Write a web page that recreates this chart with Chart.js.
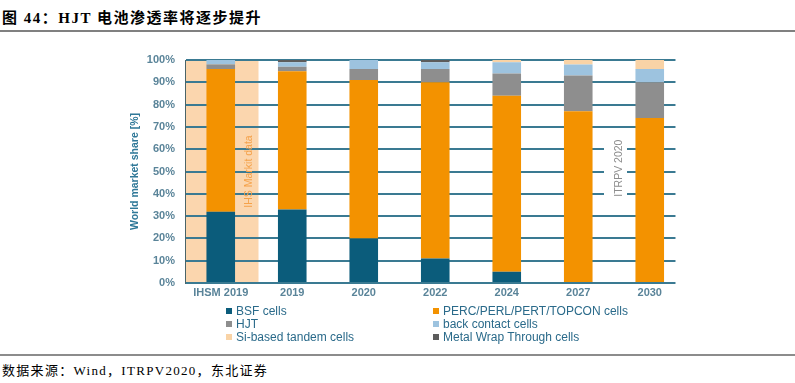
<!DOCTYPE html>
<html><head><meta charset="utf-8">
<script src="https://cdn.jsdelivr.net/npm/chart.js@4.4.0/dist/chart.umd.min.js"></script>
<style>
html,body{margin:0;padding:0;background:#fff;width:795px;height:383px;overflow:hidden;position:relative;}
#title{position:absolute;left:2px;top:6px;font:bold 15px "Liberation Serif","Noto Sans CJK SC",serif;letter-spacing:1.5px;color:#000;white-space:nowrap;}
#topline{position:absolute;left:0;top:30px;width:795px;height:2px;background:#808080;}
#botline{position:absolute;left:0;top:354px;width:795px;height:2px;background:#8c8c8c;}
#source{position:absolute;left:2px;top:360px;font:13px "Liberation Serif","Noto Sans CJK SC",serif;letter-spacing:1.3px;color:#000;white-space:nowrap;}
#wrap{position:absolute;left:0;top:40px;width:795px;height:265px;}
#legend{position:absolute;left:226px;top:305px;display:grid;grid-template-columns:207px 230px;font:12px "Liberation Sans",Arial,sans-serif;color:#2A6A8A;}
.item{height:12.8px;line-height:12.8px;white-space:nowrap;display:flex;align-items:center;}
.sw{width:6px;height:6px;margin-right:4px;display:inline-block;}
</style></head>
<body>
<div id="title">图 44：HJT 电池渗透率将逐步提升</div>
<div id="topline"></div>
<div id="wrap"><canvas id="c"></canvas></div>
<div id="legend"></div>
<div id="botline"></div>
<div id="source">数据来源：Wind，ITRPV2020，东北证券</div>
<script>
const categories = ['IHSM 2019','2019','2020','2022','2024','2027','2030'];
const bsfCells     = [32, 33, 20, 11, 5, 0, 0];
const percCells    = [64, 62, 71, 79, 79, 77, 74];
const hjtCells     = [2, 2, 5, 6, 10, 16, 16];
const backContact  = [2, 2, 4, 3, 5, 5, 6];
const metalWrap    = [0, 1, 0, 1, 0, 0, 0];
const tandemCells  = [0, 0, 0, 0, 1, 2, 4];
const yTicks = [0,10,20,30,40,50,60,70,80,90,100];

const series = [
  {label:'BSF cells', data:bsfCells, color:'#0B5C7B'},
  {label:'PERC/PERL/PERT/TOPCON cells', data:percCells, color:'#F39200'},
  {label:'HJT', data:hjtCells, color:'#8E8E8E'},
  {label:'back contact cells', data:backContact, color:'#9DC3DF'},
  {label:'Metal Wrap Through cells', data:metalWrap, color:'#5C5C5C'},
  {label:'Si-based tandem cells', data:tandemCells, color:'#F9D3A6'}
];
const legendOrder = ['BSF cells','PERC/PERL/PERT/TOPCON cells','HJT','back contact cells','Si-based tandem cells','Metal Wrap Through cells'];

const lg = document.getElementById('legend');
legendOrder.forEach(name => {
  const s = series.find(d => d.label === name);
  const it = document.createElement('div'); it.className='item';
  const sw = document.createElement('span'); sw.className='sw'; sw.style.background=s.color;
  it.appendChild(sw); it.appendChild(document.createTextNode(s.label));
  lg.appendChild(it);
});

const overlay = {
  id:'overlay',
  beforeDraw(chart){
    const {ctx, chartArea:a, scales:{x}} = chart;
    const w = x.getPixelForValue(1) - x.getPixelForValue(0);
    const c0 = x.getPixelForValue(0);
    ctx.save();
    ctx.fillStyle = '#FBD6AE';
    ctx.fillRect(c0 - w/2 + 1, a.top, w + 1, a.bottom - a.top);
    ctx.restore();
  },
  beforeDatasetsDraw(chart){
    const {ctx, chartArea:a, scales:{x,y}} = chart;
    const w = x.getPixelForValue(1) - x.getPixelForValue(0);
    const mid = (x.getPixelForValue(5) + x.getPixelForValue(6)) / 2;
    ctx.save();
    ctx.fillStyle = '#ffffff';
    // grid lines stop a little past the last bar
    const gEnd = x.getPixelForValue(6) + 0.36*w;
    ctx.fillRect(gEnd, a.top - 2, a.right - gEnd + 3, a.bottom - a.top + 4);
    const yt = y.getPixelForValue(63), yb = y.getPixelForValue(37.5);
    ctx.fillRect(mid - 10, yt, 23, yb - yt);
    ctx.font = '10.5px "Liberation Sans", Arial, sans-serif';
    ctx.textAlign = 'center'; ctx.textBaseline = 'middle';
    ctx.fillStyle = '#8C8C8C';
    ctx.translate(mid + 5, y.getPixelForValue(51.5));
    ctx.rotate(-Math.PI/2);
    ctx.fillText('ITRPV 2020', 0, 0);
    ctx.restore();
    ctx.save();
    ctx.font = '10.5px "Liberation Sans", Arial, sans-serif';
    ctx.textAlign = 'center'; ctx.textBaseline = 'middle';
    ctx.fillStyle = '#F5A24A';
    ctx.translate(x.getPixelForValue(0) + 0.4*w, y.getPixelForValue(50));
    ctx.rotate(-Math.PI/2);
    ctx.fillText('IHS Markit data', 0, 0);
    ctx.restore();
  }
};

new Chart(document.getElementById('c'), {
  type:'bar',
  data:{
    labels:categories,
    datasets:series.map(s => ({label:s.label, data:s.data, backgroundColor:s.color, borderWidth:0,
      barPercentage:0.4, categoryPercentage:1}))
  },
  options:{
    responsive:true, maintainAspectRatio:false, animation:false,
    layout:{padding:{left:125, right:109.5, top:20, bottom:0}},
    plugins:{legend:{display:false}, tooltip:{enabled:false}},
    scales:{
      x:{stacked:true, grid:{display:false, drawTicks:false}, border:{display:false},
        ticks:{padding:3, color:'#5A8499', font:{family:'"Liberation Sans", Arial, sans-serif', size:11, weight:'bold'}},
        afterFit(s){ s.height = 22; }},
      y:{stacked:true, min:0, max:100,
        afterBuildTicks(s){ s.ticks = yTicks.map(v => ({value:v})); },
        grid:{color:'#3A7A92', lineWidth:2, drawTicks:false},
        border:{display:true, color:'#4A6468', width:1},
        ticks:{padding:10, color:'#5A8499', callback:v => v + '%', font:{family:'"Liberation Sans", Arial, sans-serif', size:11, weight:'bold'}},
        title:{display:true, text:'World market share [%]', color:'#2F7898', font:{family:'"Liberation Sans", Arial, sans-serif', size:10.5, weight:'bold'}},
        afterFit(s){ s.width = 60; }}
    }
  },
  plugins:[overlay]
});
</script>
</body></html>
